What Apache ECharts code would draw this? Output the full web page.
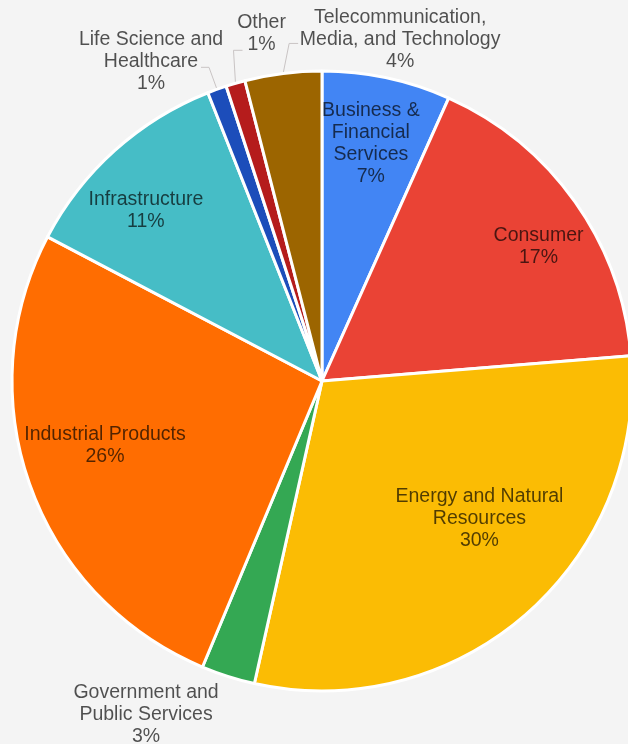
<!DOCTYPE html>
<html>
<head>
<meta charset="utf-8">
<script src="https://cdn.jsdelivr.net/npm/echarts@6/dist/echarts.min.js"></script>
<style>
html,body{margin:0;padding:0;background:#f4f4f4;}
#chart{width:628px;height:744px;}
</style>
</head>
<body>
<div id="chart"></div>
<script>
// ---- data ----
const categories = [
  'Business &\nFinancial\nServices',
  'Consumer',
  'Energy and Natural\nResources',
  'Government and\nPublic Services',
  'Industrial Products',
  'Infrastructure',
  'Life Science and\nHealthcare',
  'Other',
  'Telecommunication,\nMedia, and Technology'
];
const shares = [6.7, 17.0, 29.8, 2.8, 26.4, 11.3, 1.0, 1.0, 4.0];
const sliceColors = ['#4285F4', '#EA4335', '#FBBC04', '#34A853', '#FF6D01', '#46BDC6', '#1C4DBA', '#B51C1C', '#9C6500'];

// ---- label placement (style only) ----
const labelGroup = ['far', 'far', 'near', 'out', 'near', 'far', 'out', 'out', 'out'];
// offsets relative to the library's slice-edge anchor
const outsideOffsets = {
  3: { label: [-82, 38], line: [[0, 0], [0, 0]] },
  6: { label: [-66, -28], line: [[-8, -22], [-16, -22]] },
  7: { label: [26, -50], line: [[-2, -33], [7, -33]] },
  8: { label: [117, -34], line: [[6, -30], [15, -30]] }
};
// small nudges for inside labels, relative to library placement
const insideNudges = {
  0: [-4, 10],
  1: [10, 12],
  2: [13, -28],
  4: [-10, -10],
  5: [-7, 18]
};

const CENTER = [322, 381];
const R = 310;
const textStyle = {
  color: 'rgba(0,0,0,0.68)',
  fontFamily: '"Liberation Sans", Arial, sans-serif',
  fontSize: 19.5,
  lineHeight: 22
};
const fmt = p => p.name + '\n' + Math.round(p.percent) + '%';

const chart = echarts.init(document.getElementById('chart'), null, { renderer: 'canvas' });

function overlaySeries(group, radius) {
  return {
    type: 'pie',
    center: CENTER,
    radius: radius,
    startAngle: 90,
    clockwise: true,
    silent: true,
    avoidLabelOverlap: false,
    z: 5,
    itemStyle: { color: 'rgba(0,0,0,0)', borderWidth: 0 },
    emphasis: { disabled: true },
    label: Object.assign({ position: 'inside', formatter: fmt }, textStyle),
    labelLine: { show: false },
    data: categories.map((n, i) => ({
      name: n,
      value: shares[i],
      label: { show: labelGroup[i] === group }
    })),
    labelLayout: function (p) {
      const n = insideNudges[p.dataIndex];
      if (!n) return {};
      const r = p.labelRect;
      return {
        x: r.x + r.width / 2 + n[0],
        y: r.y + r.height / 2 + n[1],
        align: 'center',
        verticalAlign: 'middle'
      };
    }
  };
}

chart.setOption({
  backgroundColor: '#f4f4f4',
  animation: false,
  series: [
    {
      type: 'pie',
      center: CENTER,
      radius: R,
      startAngle: 90,
      clockwise: true,
      avoidLabelOverlap: false,
      emphasis: { disabled: true },
      itemStyle: { borderColor: '#ffffff', borderWidth: 3 },
      label: Object.assign({ position: 'outside', formatter: fmt }, textStyle),
      labelLine: { show: true, length: 10, length2: 10, lineStyle: { color: '#c9c4c4', width: 1 } },
      data: categories.map((n, i) => ({
        name: n,
        value: shares[i],
        itemStyle: { color: sliceColors[i] },
        label: { show: labelGroup[i] === 'out' },
        labelLine: { show: labelGroup[i] === 'out' }
      })),
      labelLayout: function (p) {
        const o = outsideOffsets[p.dataIndex];
        if (!o || !p.labelLinePoints) return {};
        const e = p.labelLinePoints[0];
        return {
          x: e[0] + o.label[0],
          y: e[1] + o.label[1],
          align: 'center',
          verticalAlign: 'middle',
          labelLinePoints: [
            [e[0], e[1]],
            [e[0] + o.line[0][0], e[1] + o.line[0][1]],
            [e[0] + o.line[1][0], e[1] + o.line[1][1]]
          ]
        };
      }
    },
    overlaySeries('far', 500),
    overlaySeries('near', 434)
  ]
});
</script>
</body>
</html>
